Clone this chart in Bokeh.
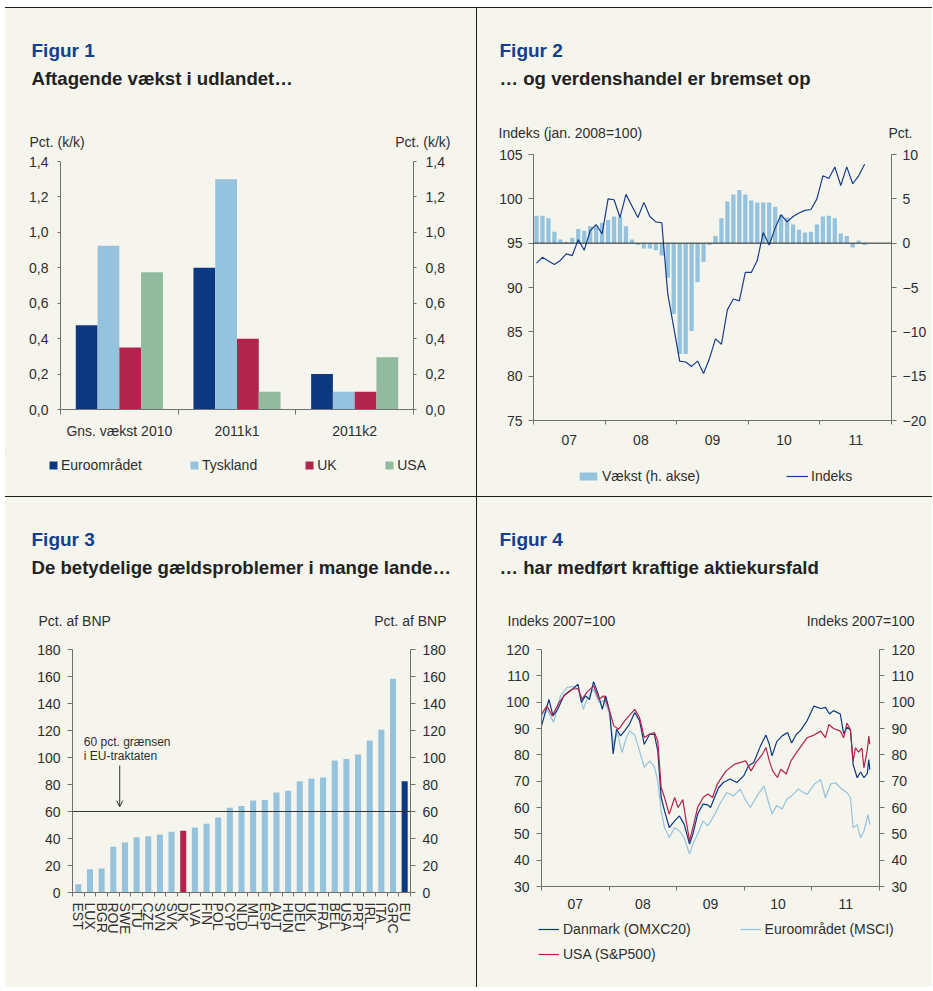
from bokeh.plotting import figure
from bokeh.layouts import row, column
from bokeh.models import (Range1d, LinearAxis, FixedTicker, CustomJSTickFormatter,
                          Label, Legend, LegendItem, Span, Arrow, OpenHead)
from bokeh.embed import file_html
from bokeh.resources import INLINE

FONT = "Liberation Sans"
BG = "#F5F5ED"
NAVY = "#0B387E"
LBLUE = "#95C3DD"
RED = "#B2234E"
GREEN = "#91BA9E"
TBLUE = "#123F8E"
TXT = "#2E2E2E"
AX = "#707070"
SEP = "#1E1E1E"

# ---------------- Figur 1 data ----------------
f1_groups = ["Gns. vækst 2010", "2011k1", "2011k2"]
f1_names = ["Euroområdet", "Tyskland", "UK", "USA"]
f1_euro = [0.475, 0.80, 0.20]
f1_tysk = [0.925, 1.30, 0.10]
f1_uk = [0.35, 0.40, 0.10]
f1_usa = [0.775, 0.10, 0.295]
f1_yticks = [0, 0.2, 0.4, 0.6, 0.8, 1.0, 1.2, 1.4]

# ---------------- Figur 2 data (monthly, Jan 2007 - Aug 2011) ----------------
f2_start_year = 2007
f2_growth = [3.1, 3.1, 2.8, 1.3, 0.4, 0.15, 0.6, 1.6, 1.4, 1.9, 1.9, 2.3,
             2.6, 3.0, 3.0, 1.9, 0.4, -0.2, -0.6, -0.6, -0.8, -1.4, -3.9, -8.0,
             -12.5, -12.5, -9.9, -4.4, -2.1, -0.2, 0.8, 2.8, 4.7, 5.5, 6.0, 5.5,
             4.8, 4.6, 4.6, 4.6, 4.1, 3.2, 2.9, 2.1, 1.5, 1.2, 1.3, 2.1,
             3.0, 3.1, 2.8, 1.1, 0.8, -0.5, 0.3, -0.2]
f2_index = [92.75, 93.4, 93.0, 92.6, 93.05, 93.8, 93.6, 95.4, 94.2, 96.4, 97.1, 96.05,
            100.0, 99.9, 97.9, 100.5, 99.2, 97.9, 99.6, 98.0, 97.4, 97.3, 89.3, 85.5,
            81.7, 81.6, 81.1, 81.7, 80.3, 82.0, 84.2, 83.6, 87.5, 88.7, 88.5, 91.7,
            91.7, 93.05, 96.2, 94.8, 96.7, 98.2, 97.4, 98.0, 98.4, 98.7, 98.8, 100.0,
            102.6, 102.3, 103.6, 101.5, 103.6, 101.7, 102.6, 103.9]
f2_years = [2007, 2008, 2009, 2010, 2011, 2012]

# ---------------- Figur 3 data ----------------
f3_countries = ["EST", "LUX", "BGR", "ROU", "SWE", "LTU", "CZE", "SVN", "SVK", "DK",
                "LVA", "FIN", "POL", "CYP", "NLD", "MLT", "ESP", "AUT", "HUN", "DEU",
                "UK", "FRA", "BEL", "USA", "PRT", "IRL", "ITA", "GRC", "EU"]
f3_debt = [6.2, 17.3, 17.8, 33.8, 37.0, 41.0, 41.7, 43.0, 45.0, 45.7,
           48.1, 50.9, 55.6, 62.7, 64.0, 68.1, 68.6, 74.1, 75.3, 82.5,
           84.4, 85.2, 97.8, 98.8, 102.2, 112.6, 120.5, 158.3, 82.5]
f3_limit = 60

# ---------------- Figur 4 data ----------------
f4_dk_t = [2007.00, 2007.05, 2007.11, 2007.17, 2007.24, 2007.33, 2007.43, 2007.54, 2007.59, 2007.65,
           2007.71, 2007.77, 2007.83, 2007.90, 2007.95, 2008.01, 2008.06, 2008.11, 2008.17, 2008.23,
           2008.30, 2008.38, 2008.45, 2008.52, 2008.60, 2008.67, 2008.72, 2008.77, 2008.82, 2008.89,
           2008.97, 2009.04, 2009.11, 2009.19, 2009.24, 2009.31, 2009.39, 2009.46, 2009.50, 2009.56,
           2009.62, 2009.69, 2009.79, 2009.89, 2009.99, 2010.06, 2010.14, 2010.24, 2010.32, 2010.37,
           2010.41, 2010.48, 2010.56, 2010.64, 2010.70, 2010.77, 2010.83, 2010.93, 2011.03, 2011.13,
           2011.20, 2011.26, 2011.32, 2011.42, 2011.47, 2011.52, 2011.57, 2011.61, 2011.67, 2011.72,
           2011.77, 2011.82, 2011.84, 2011.857]
f4_dk_v = [91.0, 95.5, 101.0, 94.8, 97.3, 102.4, 104.3, 106.8, 99.9, 102.4,
           101.0, 107.8, 103.7, 97.3, 102.4, 96.1, 80.3, 89.7, 87.2, 89.1,
           91.6, 96.1, 93.0, 84.0, 87.8, 87.8, 81.5, 63.8, 58.7, 52.4,
           54.9, 56.8, 53.7, 46.1, 49.9, 57.5, 61.3, 61.0, 60.0, 63.8,
           67.5, 69.5, 70.8, 69.5, 72.0, 75.8, 77.1, 83.4, 87.5, 84.0,
           79.6, 85.0, 87.2, 88.5, 84.5, 87.8, 89.2, 93.0, 98.5, 97.6,
           98.0, 95.5, 96.8, 95.5, 88.0, 90.5, 89.5, 76.3, 71.3, 73.5,
           71.3, 73.0, 78.2, 74.4]
f4_eu_t = [2007.00, 2007.08, 2007.18, 2007.28, 2007.38, 2007.48, 2007.55, 2007.62, 2007.67, 2007.77,
           2007.85, 2007.92, 2008.00, 2008.07, 2008.12, 2008.19, 2008.25, 2008.30, 2008.38, 2008.45,
           2008.52, 2008.60, 2008.67, 2008.72, 2008.77, 2008.82, 2008.89, 2008.97, 2009.04, 2009.11,
           2009.19, 2009.24, 2009.31, 2009.39, 2009.46, 2009.55, 2009.65, 2009.74, 2009.84, 2009.94,
           2010.01, 2010.09, 2010.19, 2010.29, 2010.36, 2010.41, 2010.48, 2010.56, 2010.63, 2010.70,
           2010.80, 2010.88, 2010.93, 2011.03, 2011.13, 2011.20, 2011.28, 2011.35, 2011.42, 2011.52,
           2011.57, 2011.61, 2011.67, 2011.72, 2011.77, 2011.83, 2011.857]
f4_eu_v = [94.8, 97.3, 92.3, 102.4, 105.6, 106.0, 104.5, 97.3, 101.1, 104.9,
           99.9, 100.5, 96.1, 83.4, 88.5, 80.9, 86.0, 89.1, 87.5, 81.5,
           75.2, 77.7, 75.5, 70.1, 58.7, 52.4, 48.6, 52.4, 51.1, 48.6,
           42.3, 46.1, 49.9, 54.9, 53.0, 56.8, 61.9, 65.7, 64.4, 67.0,
           63.2, 60.0, 64.4, 68.2, 61.9, 57.5, 60.8, 59.4, 63.2, 64.4,
           67.0, 65.6, 65.0, 68.7, 70.6, 63.7, 69.0, 69.4, 67.5, 65.6,
           63.7, 52.3, 53.5, 48.5, 51.0, 57.3, 53.5]
f4_us_t = [2007.00, 2007.08, 2007.16, 2007.26, 2007.35, 2007.45, 2007.54, 2007.60, 2007.67, 2007.77,
           2007.85, 2007.92, 2008.00, 2008.07, 2008.14, 2008.23, 2008.30, 2008.38, 2008.45, 2008.52,
           2008.60, 2008.67, 2008.72, 2008.77, 2008.82, 2008.89, 2008.97, 2009.02, 2009.09, 2009.14,
           2009.19, 2009.24, 2009.31, 2009.39, 2009.46, 2009.53, 2009.60, 2009.73, 2009.86, 2010.02,
           2010.10, 2010.17, 2010.27, 2010.32, 2010.37, 2010.42, 2010.49, 2010.54, 2010.62, 2010.69,
           2010.79, 2010.86, 2010.93, 2011.03, 2011.13, 2011.20, 2011.25, 2011.32, 2011.42, 2011.47,
           2011.52, 2011.57, 2011.61, 2011.645, 2011.69, 2011.74, 2011.77, 2011.82, 2011.842, 2011.857]
f4_us_v = [95.4, 98.6, 94.8, 99.9, 103.0, 104.9, 105.2, 101.1, 103.7, 106.2,
           101.1, 102.4, 97.3, 91.0, 89.7, 92.9, 95.0, 97.3, 94.2, 86.6,
           87.8, 88.5, 85.3, 67.6, 63.8, 57.5, 63.8, 60.0, 63.0, 54.9,
           47.3, 52.4, 60.0, 63.8, 65.1, 63.8, 68.9, 73.9, 76.5, 77.7,
           73.9, 77.0, 80.3, 82.8, 77.7, 73.9, 71.4, 74.5, 72.7, 77.7,
           81.5, 84.0, 86.5, 87.5, 89.0, 86.5, 91.5, 90.0, 89.0, 86.5,
           92.0, 89.5, 77.6, 82.7, 81.0, 82.5, 75.0, 82.0, 87.1, 84.0]
f4_names = ["Danmark (OMXC20)", "Euroområdet (MSCI)", "USA (S&P500)"]


# ---------------- helpers ----------------
def blank_fig(w, h):
    """Axis-less strip whose frame is the whole canvas; data units = pixels (y down)."""
    p = figure(width=w, height=h, x_range=Range1d(0, w), y_range=Range1d(h, 0),
               x_axis_location=None, y_axis_location=None, min_border=0,
               output_backend="svg", toolbar_location=None, title=None)
    p.background_fill_color = BG
    p.border_fill_color = BG
    p.outline_line_color = None
    p.xgrid.visible = False
    p.ygrid.visible = False
    return p


def header(w, h, num, sub, xt, unit_l, xl, unit_r, xr, yu):
    """Texts are given by baseline; the rendered anchor sits at the glyph middle."""
    p = blank_fig(w, h)

    def lab(x, y, s, size, color, bold=False, align="left"):
        p.add_layout(Label(x=x, y=y - 0.36 * size, text=s, text_font=FONT,
                           text_font_size="%.1fpx" % size,
                           text_color=color, text_font_style="bold" if bold else "normal",
                           text_align=align, text_baseline="alphabetic"))
    lab(xt, 57 - 8, "Figur %d" % num, 19, TBLUE, True)
    lab(xt, 85 - 8, sub, 18.6, "#222222", True)
    lab(xl, yu, unit_l, 14, TXT)
    lab(xr, yu, unit_r, 14, TXT, align="right")
    return p


def footer(w, h, legends):
    """Legend strip; swatch renderers sit outside the visible frame (legend keys only)."""
    p = blank_fig(w, h)
    for (items, vx, cy, gw, so, sp) in legends:
        its = []
        for (name, kind, col) in items:
            if kind == "bar":
                r = p.vbar(x=[-100], top=[-100], bottom=[-110], width=1,
                           fill_color=col, line_color=None)
            else:
                r = p.line(x=[-100, -90], y=[-100, -100], line_color=col, line_width=1.2)
            its.append(LegendItem(label=name, renderers=[r]))
        p.add_layout(Legend(items=its, orientation="horizontal",
                            location=(vx, h - (cy + 10)),
                            glyph_width=gw, glyph_height=10, label_standoff=so, spacing=sp,
                            padding=0, margin=0, label_height=20,
                            label_text_font=FONT, label_text_font_size="14px",
                            label_text_color=TXT, label_text_baseline="middle",
                            background_fill_alpha=0, border_line_alpha=0))
    return p


def chart(w, h, fr, x_range, y_range):
    left, right, top, bottom = fr
    p = figure(width=w, height=h, x_range=x_range, y_range=y_range,
               output_backend="svg", toolbar_location=None, title=None,
               min_border_left=left, min_border_right=w - right,
               min_border_top=top, min_border_bottom=h - bottom)
    p.background_fill_color = BG
    p.border_fill_color = BG
    p.outline_line_color = None
    p.xgrid.visible = False
    p.ygrid.visible = False
    return p


def style_axis(ax, tick_out=4, standoff=8, minor_out=0):
    ax.axis_line_color = AX
    ax.major_tick_line_color = AX
    ax.minor_tick_line_color = AX
    ax.major_tick_out = tick_out
    ax.major_tick_in = 0
    ax.minor_tick_in = 0
    ax.minor_tick_out = minor_out
    ax.major_label_standoff = standoff
    ax.major_label_text_font = FONT
    ax.major_label_text_font_size = "14px"
    ax.major_label_text_color = TXT


comma_fmt = CustomJSTickFormatter(code="return tick.toFixed(1).replace('.', ',');")
year_fmt = CustomJSTickFormatter(code="return String(Math.floor(tick) % 100).padStart(2, '0');")

# ================= Figur 1 =================
h1 = header(471, 144, 1, "Aftagende vækst i udlandet…", 26,
            "Pct. (k/k)", 24, "Pct. (k/k)", 445, 139)
fr1 = (55, 408, 9, 257)
c1 = chart(471, 298, fr1, Range1d(0, len(f1_groups)), Range1d(0, 1.4))
c1.extra_y_ranges = {"r": Range1d(0, 1.4)}
c1.add_layout(LinearAxis(y_range_name="r"), "right")
for ax in c1.yaxis:
    ax.ticker = FixedTicker(ticks=f1_yticks)
    ax.formatter = comma_fmt
    style_axis(ax, tick_out=3, standoff=9)
c1.xaxis.ticker = FixedTicker(ticks=[i + 0.5 for i in range(len(f1_groups))],
                              minor_ticks=list(range(len(f1_groups) + 1)))
c1.xaxis.formatter = CustomJSTickFormatter(args=dict(names=f1_groups),
                                           code="return names[Math.floor(tick)];")
style_axis(c1.xaxis[0], tick_out=0, standoff=8, minor_out=5)
bw = 0.185
f1_cols = [NAVY, LBLUE, RED, GREEN]
for j, vals in enumerate([f1_euro, f1_tysk, f1_uk, f1_usa]):
    xs = [i + 0.5 + (j - 1.5) * bw for i in range(len(vals))]
    c1.vbar(x=xs, top=vals, bottom=0, width=bw, fill_color=f1_cols[j], line_color=None)
ft1 = footer(471, 46, [([(n, "bar", c) for n, c in zip(f1_names, f1_cols)], 43, 15, 10, 3, 47)])

# ================= Figur 2 =================
h2 = header(455, 138, 2, "… og verdenshandel er bremset op", 22,
            "Indeks (jan. 2008=100)", 21, "Pct.", 435, 130)
fr2 = (56, 414, 8, 274)
c2 = chart(455, 309, fr2, Range1d(f2_years[0], f2_years[-1]), Range1d(75, 105))
c2.extra_y_ranges = {"pct": Range1d(-20, 10)}
c2.add_layout(LinearAxis(y_range_name="pct"), "right")
c2.yaxis[0].ticker = FixedTicker(ticks=[75, 80, 85, 90, 95, 100, 105])
c2.yaxis[1].ticker = FixedTicker(ticks=[-20, -15, -10, -5, 0, 5, 10])
for ax in c2.yaxis:
    style_axis(ax, tick_out=5, standoff=6)
c2.xaxis.ticker = FixedTicker(ticks=[y + 0.5 for y in f2_years[:-1]], minor_ticks=f2_years)
c2.xaxis.formatter = year_fmt
style_axis(c2.xaxis[0], tick_out=0, standoff=10, minor_out=4)
f2_x = [f2_start_year + (i + 0.5) / 12 for i in range(len(f2_growth))]
c2.vbar(x=f2_x, top=f2_growth, bottom=0, width=0.72 / 12, y_range_name="pct",
        fill_color=LBLUE, line_color=None)
c2.add_layout(Span(location=95, dimension="width", line_color="#222222", line_width=1))
c2.line(f2_x, f2_index, line_color="#1A3C8C", line_width=1.2)
ft2 = footer(455, 41, [([("Vækst (h. akse)", "bar", LBLUE), ("Indeks", "line", "#1A3C8C")],
                        100, 20.7, 22, 3, 86)])

# ================= Figur 3 =================
h3 = header(471, 143, 3, "De betydelige gældsproblemer i mange lande…", 26,
            "Pct. af BNP", 33, "Pct. af BNP", 441, 129)
fr3 = (67, 405, 9, 252)
n3 = len(f3_countries)
c3 = chart(471, 347, fr3, Range1d(0, n3), Range1d(0, 180))
c3.extra_y_ranges = {"r": Range1d(0, 180)}
c3.add_layout(LinearAxis(y_range_name="r"), "right")
for ax in c3.yaxis:
    ax.ticker = FixedTicker(ticks=list(range(0, 181, 20)))
    style_axis(ax, tick_out=5, standoff=7)
c3.xaxis.ticker = FixedTicker(ticks=[i + 0.5 for i in range(n3)], minor_ticks=list(range(n3 + 1)))
c3.xaxis.formatter = CustomJSTickFormatter(args=dict(names=f3_countries),
                                           code="return names[Math.floor(tick)];")
style_axis(c3.xaxis[0], tick_out=0, standoff=6, minor_out=4)
c3.xaxis.major_label_orientation = "vertical"
f3_colors = [RED if c == "DK" else (NAVY if c == "EU" else LBLUE) for c in f3_countries]
c3.vbar(x=[i + 0.5 for i in range(n3)], top=f3_debt, bottom=0, width=0.52,
        fill_color=f3_colors, line_color=None)
c3.add_layout(Span(location=f3_limit, dimension="width", line_color="#333333", line_width=1))
c3.add_layout(Arrow(end=OpenHead(size=6, line_color="#333333", line_width=1),
                    x_start=4.05, y_start=94, x_end=4.05, y_end=63.5,
                    line_color="#333333", line_width=1))
for s, yb in [("60 pct. grænsen", 105.7), ("i EU-traktaten", 120.3)]:
    c3.add_layout(Label(x=78.3 - fr3[0], y=fr3[3] - (yb - 0.36 * 12),
                        x_units="screen", y_units="screen",
                        text=s, text_font=FONT, text_font_size="12px", text_color=TXT,
                        text_baseline="alphabetic"))

# ================= Figur 4 =================
h4 = header(455, 143, 4, "… har medført kraftige aktiekursfald", 22,
            "Indeks 2007=100", 30, "Indeks 2007=100", 437, 129)
fr4 = (64, 402, 9, 246)
c4 = chart(455, 278, fr4, Range1d(f2_years[0], f2_years[-1]), Range1d(30, 120))
c4.extra_y_ranges = {"r": Range1d(30, 120)}
c4.add_layout(LinearAxis(y_range_name="r"), "right")
for ax in c4.yaxis:
    ax.ticker = FixedTicker(ticks=list(range(30, 121, 10)))
    style_axis(ax, tick_out=5, standoff=7)
c4.xaxis.ticker = FixedTicker(ticks=[y + 0.5 for y in f2_years[:-1]], minor_ticks=f2_years)
c4.xaxis.formatter = year_fmt
style_axis(c4.xaxis[0], tick_out=0, standoff=8, minor_out=4)
c4.line(f4_eu_t, f4_eu_v, line_color=LBLUE, line_width=1.2)
c4.line(f4_dk_t, f4_dk_v, line_color=NAVY, line_width=1.2)
c4.line(f4_us_t, f4_us_v, line_color=RED, line_width=1.2)
ft4 = footer(455, 69, [([(f4_names[0], "line", NAVY), (f4_names[1], "line", LBLUE)], 61, 11.3, 21, 4, 49),
                       ([(f4_names[2], "line", RED)], 61, 35.7, 21, 4, 0)])


def stack(*figs):
    return column(*[row(f) for f in figs], spacing=0, styles={"background-color": BG})


layout = column(row(stack(h1, c1, ft1), stack(h2, c2, ft2), spacing=1),
                row(stack(h3, c3), stack(h4, c4, ft4), spacing=1),
                spacing=1, margin=(7, 0, 0, 5),
                styles={"background-color": SEP, "border-top": "1px solid " + SEP})

open("out.html", "w").write(file_html(layout, INLINE))
